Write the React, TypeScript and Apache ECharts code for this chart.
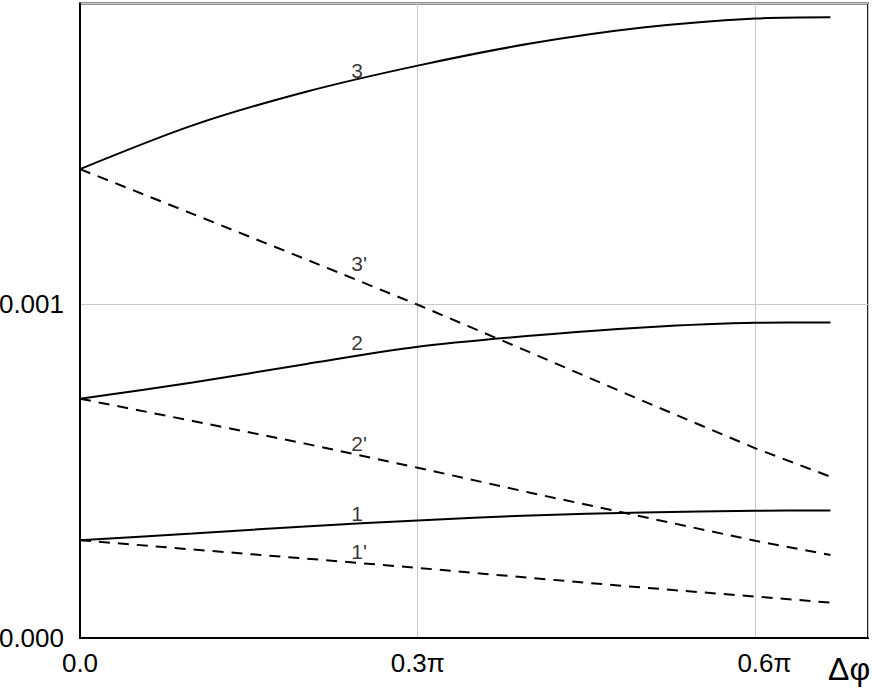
import React, { useEffect, useRef } from "react";
import * as echarts from "echarts";

// x in units of π
const xValues = [0, 0.1, 0.2, 0.3, 0.4, 0.5, 0.6, 2 / 3];
// y in units of 0.001
const curve3 = [1.404, 1.535, 1.635, 1.714, 1.78, 1.828, 1.855, 1.859];
const curve3p = [1.404, 1.27, 1.135, 0.998, 0.855, 0.71, 0.568, 0.483];
const curve2 = [0.7165, 0.765, 0.82, 0.872, 0.905, 0.93, 0.944, 0.945];
const curve2p = [0.7165, 0.65, 0.582, 0.51, 0.435, 0.363, 0.291, 0.2485];
const curve1 = [0.293, 0.313, 0.334, 0.352, 0.367, 0.376, 0.381, 0.382];
const curve1p = [0.293, 0.265, 0.238, 0.21, 0.18, 0.151, 0.124, 0.106];

const curveNames = ["3", "3'", "2", "2'", "1", "1'"];
const labelX = [0.241, 0.241, 0.241, 0.241, 0.241, 0.241];
const labelY = [1.7, 1.12, 0.884, 0.583, 0.372, 0.258];

const xTickLabels = ["0.0", "0.3π", "{s|0.6π}"];
const yTickLabels = ["0.000", "0.001"];

const FONT = "'Liberation Sans', Arial, Helvetica, sans-serif";

export default function App() {
  const ref = useRef<HTMLDivElement>(null);
  useEffect(() => {
    document.body.style.margin = "0";
    const chart = echarts.init(ref.current!, null, { renderer: "svg" });
    const pts = (ys: number[]) => xValues.map((x, i) => [x, ys[i]]);
    const solid = { color: "#000", width: 2, type: "solid" as const };
    const dashed = { color: "#000", width: 2, type: [11, 8] as any };
    const mk = (name: string, ys: number[], dash: boolean) => ({
      name,
      type: "line",
      data: pts(ys),
      showSymbol: false,
      symbol: "none",
      smooth: dash ? false : 0.3,
      lineStyle: dash ? dashed : solid,
      z: 3,
    });
    chart.setOption({
      animation: false,
      backgroundColor: "#fff",
      grid: {
        left: 80,
        right: 5,
        top: 3.5,
        bottom: 53,
        containLabel: false,
        outerBoundsMode: "none",
        show: true,
        borderColor: "#222",
        borderWidth: 2,
        backgroundColor: "transparent",
      },
      xAxis: {
        type: "value",
        min: 0,
        max: 0.7,
        interval: 0.3,
        axisLine: { show: true, lineStyle: { color: "#000", width: 2 } },
        axisTick: { show: false },
        splitLine: { show: true, lineStyle: { color: "#c8c8c8", width: 1 } },
        axisLabel: {
          color: "#000",
          fontSize: 26,
          fontFamily: FONT,
          margin: 12,
          hideOverlap: false,
          rich: {
            s: { fontSize: 26, fontFamily: FONT, color: "#000", padding: [0, 0, 0, 18] },
          },
          formatter: (v: number) => {
            const idx = Math.round(v / 0.3);
            if (Math.abs(v - idx * 0.3) > 1e-6 || idx > 2) return "";
            return xTickLabels[idx];
          },
        },
      },
      yAxis: {
        type: "value",
        min: 0,
        max: 1.9,
        interval: 1,
        axisLine: { show: true, lineStyle: { color: "#000", width: 2 } },
        axisTick: { show: false },
        splitLine: { show: true, lineStyle: { color: "#c8c8c8", width: 1 } },
        axisLabel: {
          color: "#000",
          fontSize: 26,
          fontFamily: FONT,
          margin: 16,
          formatter: (v: number) => {
            const idx = Math.round(v);
            if (Math.abs(v - idx) > 1e-6 || idx > 1) return "";
            return yTickLabels[idx];
          },
        },
      },
      series: [
        mk("3", curve3, false),
        mk("3'", curve3p, true),
        mk("2", curve2, false),
        mk("2'", curve2p, true),
        mk("1", curve1, false),
        mk("1'", curve1p, true),
        {
          name: "labels",
          type: "scatter",
          symbolSize: 0,
          silent: true,
          z: 5,
          data: curveNames.map((n, i) => ({ value: [labelX[i], labelY[i]], name: n })),
          label: {
            show: true,
            position: "inside",
            align: "left",
            verticalAlign: "middle",
            formatter: (p: any) => p.name,
            color: "#000",
            fontSize: 21,
            fontFamily: FONT,
          },
        },
      ],
      graphic: [
        {
          type: "text",
          left: 828,
          top: 653,
          style: { text: "Δφ", fontSize: 32, fontFamily: FONT, fill: "#000" },
        },
      ],
    });
    return () => chart.dispose();
  }, []);
  return (
    <div
      ref={ref}
      style={{ position: "fixed", left: 0, top: 0, width: 873, height: 691 }}
    />
  );
}
